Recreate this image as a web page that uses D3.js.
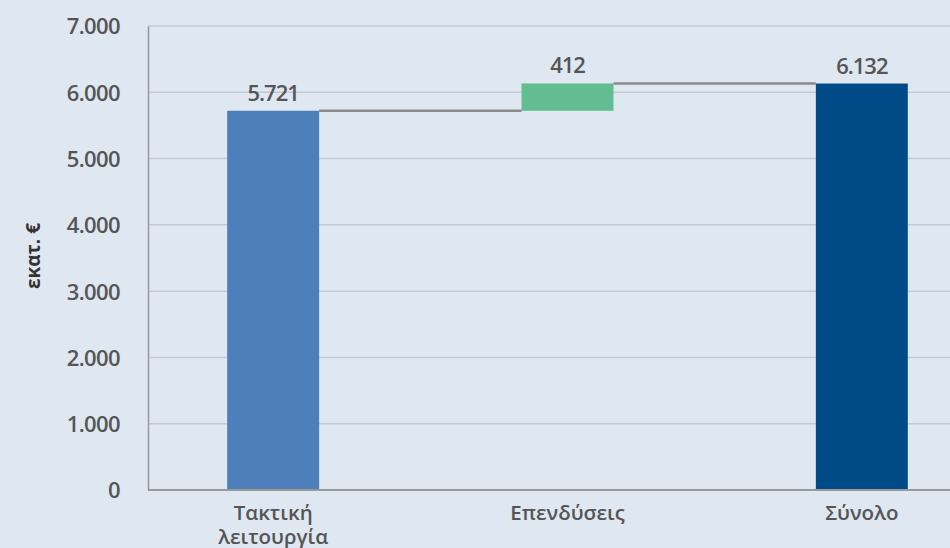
<!DOCTYPE html>
<html>
<head>
<meta charset="utf-8">
<script src="https://cdn.jsdelivr.net/npm/d3@7"></script>
<style>
  body { margin: 0; background: #dfe7f1; }
  svg { display: block; }
</style>
</head>
<body>
<div id="container"></div>
<script>
// data
var categories = ['Τακτική\nλειτουργία', 'Επενδύσεις', 'Σύνολο'];
var values = [5721, 412, 6132];
var kinds = ['base', 'delta', 'total'];
var yTicks = [0, 1000, 2000, 3000, 4000, 5000, 6000, 7000];
var yTitle = 'εκατ. €';

var svgWidth = 950,
    svgHeight = 548,
    font = '"Open Sans", sans-serif',
    svg = d3.select('#container').append('svg').attr('width', svgWidth).attr('height', svgHeight)
      .style('font-family', font),
    colors = { base: '#4d7fba', delta: '#62bd91', total: '#004b87' };

var locale = d3.formatLocale({ decimal: ',', thousands: '.', grouping: [3], currency: ['', '€'] });
var fmt = locale.format(',d');

// running start/end for waterfall
var steps = [], run = 0;
values.forEach(function(v, i) {
  var s, e;
  if (kinds[i] === 'delta') { s = run; e = run + v; }
  else { s = 0; e = v; }
  run = e;
  steps.push({ cat: categories[i], kind: kinds[i], value: v, start: s, end: e });
});

var x = d3.scaleBand().domain(categories).range([126, 1009]).paddingInner(0.6876).paddingOuter(0.3438);
var y = d3.scaleLinear().domain([0, 7000]).range([490, 26]);

svg.append('rect').attr('width', svgWidth).attr('height', svgHeight).attr('fill', '#dfe7f1');

// gridlines
svg.append('g').selectAll('line').data(yTicks.slice(1)).enter().append('line')
  .attr('x1', 148).attr('x2', svgWidth)
  .attr('y1', function(d) { return y(d); }).attr('y2', function(d) { return y(d); })
  .attr('stroke', '#c3cad4').attr('stroke-width', 1.5);

// y axis
var yAxis = svg.append('g').attr('transform', 'translate(148,0)')
  .call(d3.axisLeft(y).tickValues(yTicks).tickFormat(fmt).tickSize(0).tickPadding(28))
  .attr('font-family', font);
yAxis.select('.domain').attr('stroke', '#999').attr('stroke-width', 1.5);
yAxis.selectAll('text').attr('fill', '#555').style('font-size', '22px').style('font-weight', 600)
  .attr('letter-spacing', '-0.6').attr('dy', '0.36em');

// bars
svg.append('g').selectAll('rect').data(steps).enter().append('rect')
  .attr('x', function(d) { return x(d.cat); })
  .attr('width', x.bandwidth())
  .attr('y', function(d) { return y(Math.max(d.start, d.end)); })
  .attr('height', function(d) { return Math.abs(y(d.start) - y(d.end)); })
  .attr('fill', function(d) { return colors[d.kind]; });

// connectors
svg.append('g').selectAll('line').data(steps.slice(0, -1)).enter().append('line')
  .attr('x1', function(d) { return x(d.cat) + x.bandwidth(); })
  .attr('x2', function(d, i) { return x(steps[i + 1].cat); })
  .attr('y1', function(d) { return y(d.end); })
  .attr('y2', function(d) { return y(d.end); })
  .attr('stroke', '#8a8a8a').attr('stroke-width', 2.5);

// x axis
svg.append('line').attr('x1', 148).attr('x2', svgWidth).attr('y1', y(0)).attr('y2', y(0))
  .attr('stroke', '#999').attr('stroke-width', 2);

// value labels
svg.append('g').selectAll('text').data(steps).enter().append('text')
  .attr('x', function(d) { return x(d.cat) + x.bandwidth() / 2; })
  .attr('y', function(d) { return y(Math.max(d.start, d.end)) - 10; })
  .attr('text-anchor', 'middle').attr('fill', '#555')
  .style('font-size', '22px').style('font-weight', 600).attr('letter-spacing', '-1')
  .text(function(d) { return fmt(d.value); });

// category labels
var cl = svg.append('g').selectAll('text').data(steps).enter().append('text')
  .attr('x', function(d) { return x(d.cat) + x.bandwidth() / 2; })
  .attr('y', 520)
  .attr('text-anchor', 'middle').attr('fill', '#555')
  .style('font-size', '20.5px').style('font-weight', 600);
cl.each(function(d) {
  var lines = d.cat.split('\n'), t = d3.select(this);
  lines.forEach(function(l, i) {
    t.append('tspan').attr('x', t.attr('x')).attr('dy', i ? 24 : 0).text(l);
  });
});

// y title
svg.append('text')
  .attr('transform', 'translate(40,256) rotate(-90)')
  .attr('text-anchor', 'middle').attr('fill', '#333')
  .style('font-size', '19px').style('font-weight', 700)
  .text(yTitle);
</script>
</body>
</html>
